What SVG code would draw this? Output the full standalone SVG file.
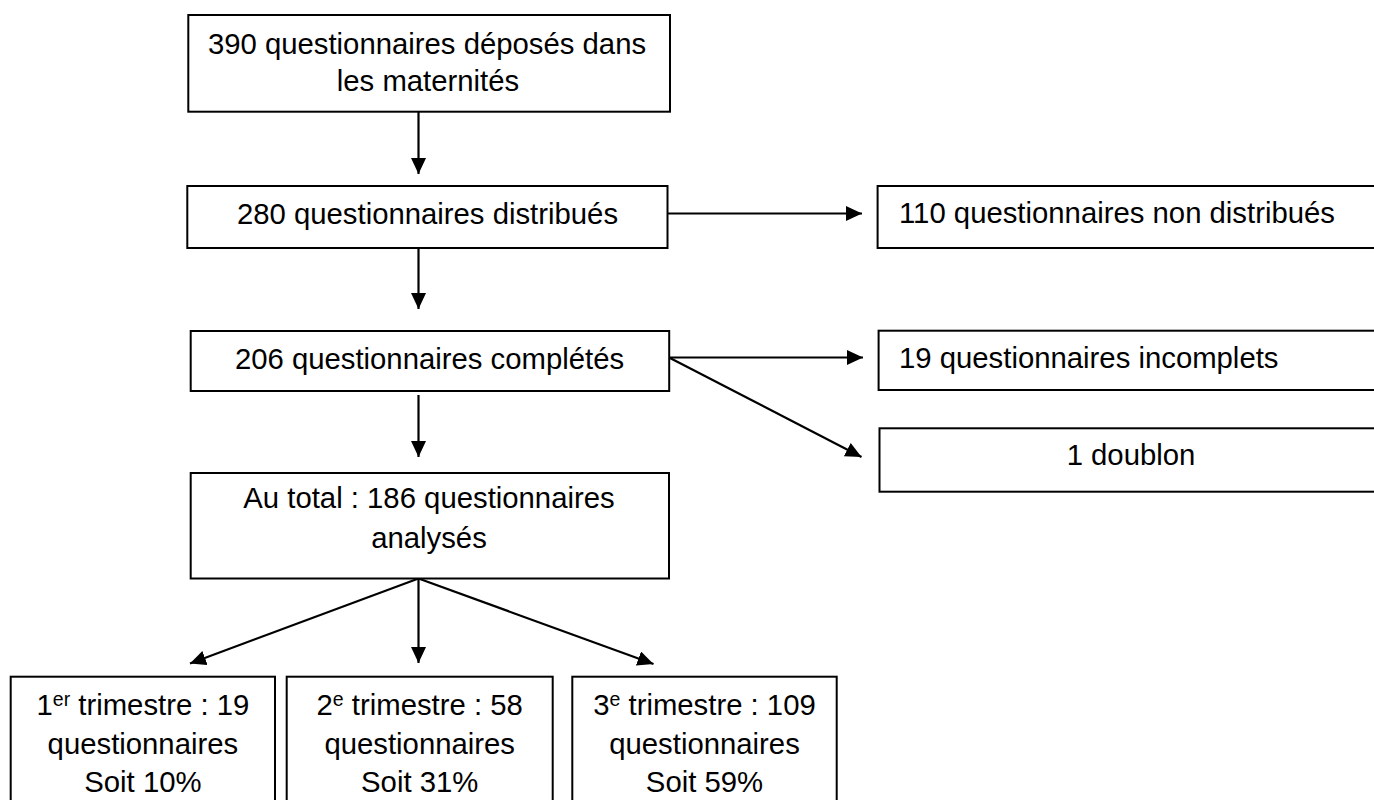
<svg xmlns="http://www.w3.org/2000/svg" width="1374" height="800" viewBox="0 0 1374 800">
  <style>
    .box { fill: #ffffff; stroke: #000000; stroke-width: 2; }
    .t { font-family: "Liberation Sans", Arial, sans-serif; font-size: 29.3px; fill: #000000; }
    .c { text-anchor: middle; }
    .sup { font-size: 19.5px; }
    .conn { stroke: #000000; stroke-width: 2.2; fill: none; marker-end: url(#ah); }
  </style>
  <defs>
    <marker id="ah" markerUnits="userSpaceOnUse" markerWidth="17" markerHeight="16" refX="16" refY="7.5" orient="auto">
      <path d="M0,0 L16,7.5 L0,15 Z" fill="#000000"/>
    </marker>
  </defs>
  <rect width="1374" height="800" fill="#ffffff"/>

  <g id="connectors">
    <line class="conn" x1="418.5" y1="112" x2="418.5" y2="174"/>
    <line class="conn" x1="667.5" y1="213.5" x2="862" y2="213.5"/>
    <line class="conn" x1="418.5" y1="248" x2="418.5" y2="309"/>
    <line class="conn" x1="669" y1="357.5" x2="863" y2="357.5"/>
    <line class="conn" x1="669" y1="357.5" x2="861.5" y2="457"/>
    <line class="conn" x1="418.5" y1="395" x2="418.5" y2="457"/>
    <line class="conn" x1="418.5" y1="578.5" x2="190" y2="663.5"/>
    <line class="conn" x1="418.5" y1="578.5" x2="418.5" y2="663"/>
    <line class="conn" x1="418.5" y1="578.5" x2="653.5" y2="664"/>
  </g>

  <g id="n-deposes">
    <rect class="box" x="188.3" y="15" width="481.7" height="96.7"/>
    <text class="t c" x="427" y="54">390 questionnaires déposés dans</text>
    <text class="t c" x="428" y="90.5">les maternités</text>
  </g>

  <g id="n-distribues">
    <rect class="box" x="187.3" y="186" width="480.2" height="62"/>
    <text class="t c" x="427.5" y="224">280 questionnaires distribués</text>
  </g>

  <g id="n-non-distribues">
    <rect class="box" x="877.6" y="186" width="510" height="62"/>
    <text class="t" x="899" y="223">110 questionnaires non distribués</text>
  </g>

  <g id="n-completes">
    <rect class="box" x="190.7" y="331" width="478.5" height="60"/>
    <text class="t c" x="429.5" y="369">206 questionnaires complétés</text>
  </g>

  <g id="n-incomplets">
    <rect class="box" x="878.6" y="330.7" width="510" height="59.3"/>
    <text class="t" x="899" y="368">19 questionnaires incomplets</text>
  </g>

  <g id="n-doublon">
    <rect class="box" x="879.5" y="428.3" width="504" height="63.4"/>
    <text class="t c" x="1131" y="465">1 doublon</text>
  </g>

  <g id="n-total">
    <rect class="box" x="190.7" y="473" width="478.3" height="105.5"/>
    <text class="t c" x="429" y="508.3">Au total : 186 questionnaires</text>
    <text class="t c" x="429" y="548.3">analysés</text>
  </g>

  <g id="n-trim1">
    <rect class="box" x="10.7" y="676.7" width="264.3" height="130"/>
    <text class="t c" x="142.9" y="715">1<tspan class="sup" dy="-9">er</tspan><tspan dy="9"> trimestre : 19</tspan></text>
    <text class="t c" x="142.9" y="754">questionnaires</text>
    <text class="t c" x="142.9" y="791.7">Soit 10%</text>
  </g>

  <g id="n-trim2">
    <rect class="box" x="286.7" y="676.7" width="266" height="130"/>
    <text class="t c" x="419.7" y="715">2<tspan class="sup" dy="-9">e</tspan><tspan dy="9"> trimestre : 58</tspan></text>
    <text class="t c" x="419.7" y="754">questionnaires</text>
    <text class="t c" x="419.7" y="791.7">Soit 31%</text>
  </g>

  <g id="n-trim3">
    <rect class="box" x="572.3" y="676.7" width="264.4" height="130"/>
    <text class="t c" x="704.5" y="715">3<tspan class="sup" dy="-9">e</tspan><tspan dy="9"> trimestre : 109</tspan></text>
    <text class="t c" x="704.5" y="754">questionnaires</text>
    <text class="t c" x="704.5" y="791.7">Soit 59%</text>
  </g>
</svg>
